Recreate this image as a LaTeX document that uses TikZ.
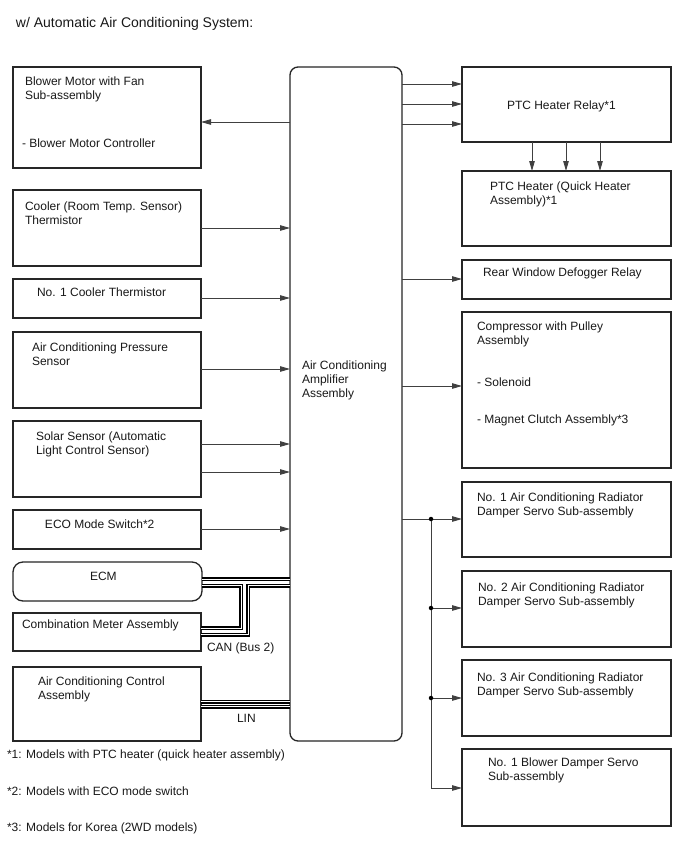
\documentclass[tikz,border=0pt]{standalone}
\usepackage{fontspec}
\setmainfont{Liberation Sans}
\usetikzlibrary{arrows.meta}
\tikzset{
  box/.style={draw=black!85, line width=1.3pt, inner sep=0pt, outer sep=0pt, anchor=north west},
  txt/.style={inner sep=0pt, outer sep=0pt, anchor=north west, align=left, font=\fontsize{12}{14}\selectfont, text=black!90},
  ttl/.style={inner sep=0pt, outer sep=0pt, anchor=north west, font=\fontsize{14}{16}\selectfont, text=black!90},
  conn/.style={draw=black!75, line width=0.9pt, -{Triangle[length=10pt,width=5.5pt]}},
  plain/.style={draw=black!75, line width=0.9pt},
  bus/.style={draw=black, line width=1.5pt, double=white, double distance=1pt},
  jdot/.style={circle, fill=black, inner sep=0pt, minimum size=4.5pt}
}
\begin{document}
\begin{tikzpicture}[x=1pt,y=-1pt]
\useasboundingbox (0,0) rectangle (688,852);
\fill[white] (0,0) rectangle (688,852);

\node[ttl] (title) at (16,17) {w/ Automatic Air Conditioning System:};

% left boxes
\node[box, minimum width=188, minimum height=101] (blower) at (13,67) {};
\node[box, minimum width=188, minimum height=76] (cooler) at (13,190) {};
\node[box, minimum width=188, minimum height=39] (cool1) at (13,279) {};
\node[box, minimum width=188, minimum height=76] (press) at (13,332) {};
\node[box, minimum width=188, minimum height=76] (solar) at (13,421) {};
\node[box, minimum width=188, minimum height=39] (eco) at (13,510) {};
\node[box, rounded corners=10pt, minimum width=189, minimum height=39] (ecm) at (13,562) {};
\node[box, minimum width=188, minimum height=38] (comb) at (13,613) {};
\node[box, minimum width=188, minimum height=74] (ctrl) at (13,667) {};

% amplifier
\node[box, rounded corners=8pt, minimum width=112, minimum height=674] (amp) at (290,67) {};

% right boxes
\node[box, minimum width=209, minimum height=75] (relay) at (462,67) {};
\node[box, minimum width=209, minimum height=75] (ptc) at (462,171) {};
\node[box, minimum width=209, minimum height=39] (rear) at (462,260) {};
\node[box, minimum width=209, minimum height=156] (comp) at (462,312) {};
\node[box, minimum width=209, minimum height=75] (rad1) at (462,482) {};
\node[box, minimum width=209, minimum height=76] (rad2) at (462,571) {};
\node[box, minimum width=209, minimum height=76] (rad3) at (462,660) {};
\node[box, minimum width=209, minimum height=77] (bdamp) at (462,749) {};

% texts
\node[txt] (tBlower) at (25,77) {Blower Motor with Fan\\Sub-assembly};
\node[txt] (tBlower2) at (22,139) {- Blower Motor Controller};
\node[txt] (tCooler) at (25,202) {Cooler (Room Temp. Sensor)\\Thermistor};
\node[txt] (tCool1) at (37,288) {No. 1 Cooler Thermistor};
\node[txt] (tPress) at (32,343) {Air Conditioning Pressure\\Sensor};
\node[txt] (tSolar) at (36,432) {Solar Sensor (Automatic\\Light Control Sensor)};
\node[txt] (tEco) at (45,520) {ECO Mode Switch*2};
\node[txt] (tEcm) at (90,572) {ECM};
\node[txt] (tComb) at (22,620) {Combination Meter Assembly};
\node[txt] (tCtrl) at (38,677) {Air Conditioning Control\\Assembly};
\node[txt] (tCan) at (207,643) {CAN (Bus 2)};
\node[txt] (tLin) at (237,714) {LIN};
\node[txt] (tAmp) at (302,361) {Air Conditioning\\Amplifier\\Assembly};
\node[txt] (tRelay) at (507,101) {PTC Heater Relay*1};
\node[txt] (tPtc) at (490,182) {PTC Heater (Quick Heater\\Assembly)*1};
\node[txt] (tRear) at (483,268) {Rear Window Defogger Relay};
\node[txt] (tComp) at (477,322) {Compressor with Pulley\\Assembly};
\node[txt] (tComp2) at (477,378) {- Solenoid};
\node[txt] (tComp3) at (477,415) {- Magnet Clutch Assembly*3};
\node[txt] (tRad1) at (477,493) {No. 1 Air Conditioning Radiator\\Damper Servo Sub-assembly};
\node[txt] (tRad2) at (478,583) {No. 2 Air Conditioning Radiator\\Damper Servo Sub-assembly};
\node[txt] (tRad3) at (477,673) {No. 3 Air Conditioning Radiator\\Damper Servo Sub-assembly};
\node[txt] (tBdamp) at (488,758) {No. 1 Blower Damper Servo\\Sub-assembly};
\node[txt] (fn1) at (7,750) {*1: Models with PTC heater (quick heater assembly)};
\node[txt] (fn2) at (7,787) {*2: Models with ECO mode switch};
\node[txt] (fn3) at (7,823) {*3: Models for Korea (2WD models)};

% y-levels
\coordinate (y84) at (0,84);
\coordinate (y104) at (0,104);
\coordinate (y124) at (0,124);
\coordinate (y122) at (0,122);
\coordinate (y228) at (0,228);
\coordinate (y298) at (0,298);
\coordinate (y369) at (0,369);
\coordinate (y444) at (0,444);
\coordinate (y472) at (0,472);
\coordinate (y529) at (0,529);
\coordinate (y279) at (0,279);
\coordinate (y386) at (0,386);
\coordinate (x532) at (532,0);
\coordinate (x566) at (566,0);
\coordinate (x600) at (600,0);
\coordinate (j1) at (431,519);
\coordinate (j2) at (431,608);
\coordinate (j3) at (431,698);
\coordinate (j4) at (431,788);

% left arrows
\draw[conn] (amp.west |- y122) -- (blower.east |- y122);
\draw[conn] (cooler.east |- y228) -- (amp.west |- y228);
\draw[conn] (cool1.east |- y298) -- (amp.west |- y298);
\draw[conn] (press.east |- y369) -- (amp.west |- y369);
\draw[conn] (solar.east |- y444) -- (amp.west |- y444);
\draw[conn] (solar.east |- y472) -- (amp.west |- y472);
\draw[conn] (eco.east |- y529) -- (amp.west |- y529);

% right arrows
\draw[conn] (amp.east |- y84) -- (relay.west |- y84);
\draw[conn] (amp.east |- y104) -- (relay.west |- y104);
\draw[conn] (amp.east |- y124) -- (relay.west |- y124);
\draw[conn] (relay.south -| x532) -- (ptc.north -| x532);
\draw[conn] (relay.south -| x566) -- (ptc.north -| x566);
\draw[conn] (relay.south -| x600) -- (ptc.north -| x600);
\draw[conn] (amp.east |- y279) -- (rear.west |- y279);
\draw[conn] (amp.east |- y386) -- (comp.west |- y386);

% dampers
\draw[plain] (amp.east |- j1) -- (j1);
\draw[plain] (j1) -- (j4);
\draw[conn] (j1) -- (rad1.west |- j1);
\draw[conn] (j2) -- (rad2.west |- j2);
\draw[conn] (j3) -- (rad3.west |- j3);
\draw[conn] (j4) -- (bdamp.west |- j4);
\node[jdot] (d1) at (j1) {};
\node[jdot] (d2) at (j2) {};
\node[jdot] (d3) at (j3) {};

% CAN bus
\coordinate (b1) at (0,579);
\coordinate (b2) at (0,585.5);
\coordinate (c2) at (241,628);
\coordinate (c3) at (248,634.5);
\draw[bus] (ecm.east |- b1) -- (amp.west |- b1);
\draw[bus] (ecm.east |- b2) -- (c2 |- b2) -- (c2) -- (comb.east |- c2);
\draw[bus] (amp.west |- b2) -- (c3 |- b2) -- (c3) -- (comb.east |- c3);

% LIN
\coordinate (l1) at (0,701.5);
\coordinate (l2) at (0,706.5);
\draw[bus] (ctrl.east |- l1) -- (amp.west |- l1);
\draw[bus] (ctrl.east |- l2) -- (amp.west |- l2);
\end{tikzpicture}
\end{document}
